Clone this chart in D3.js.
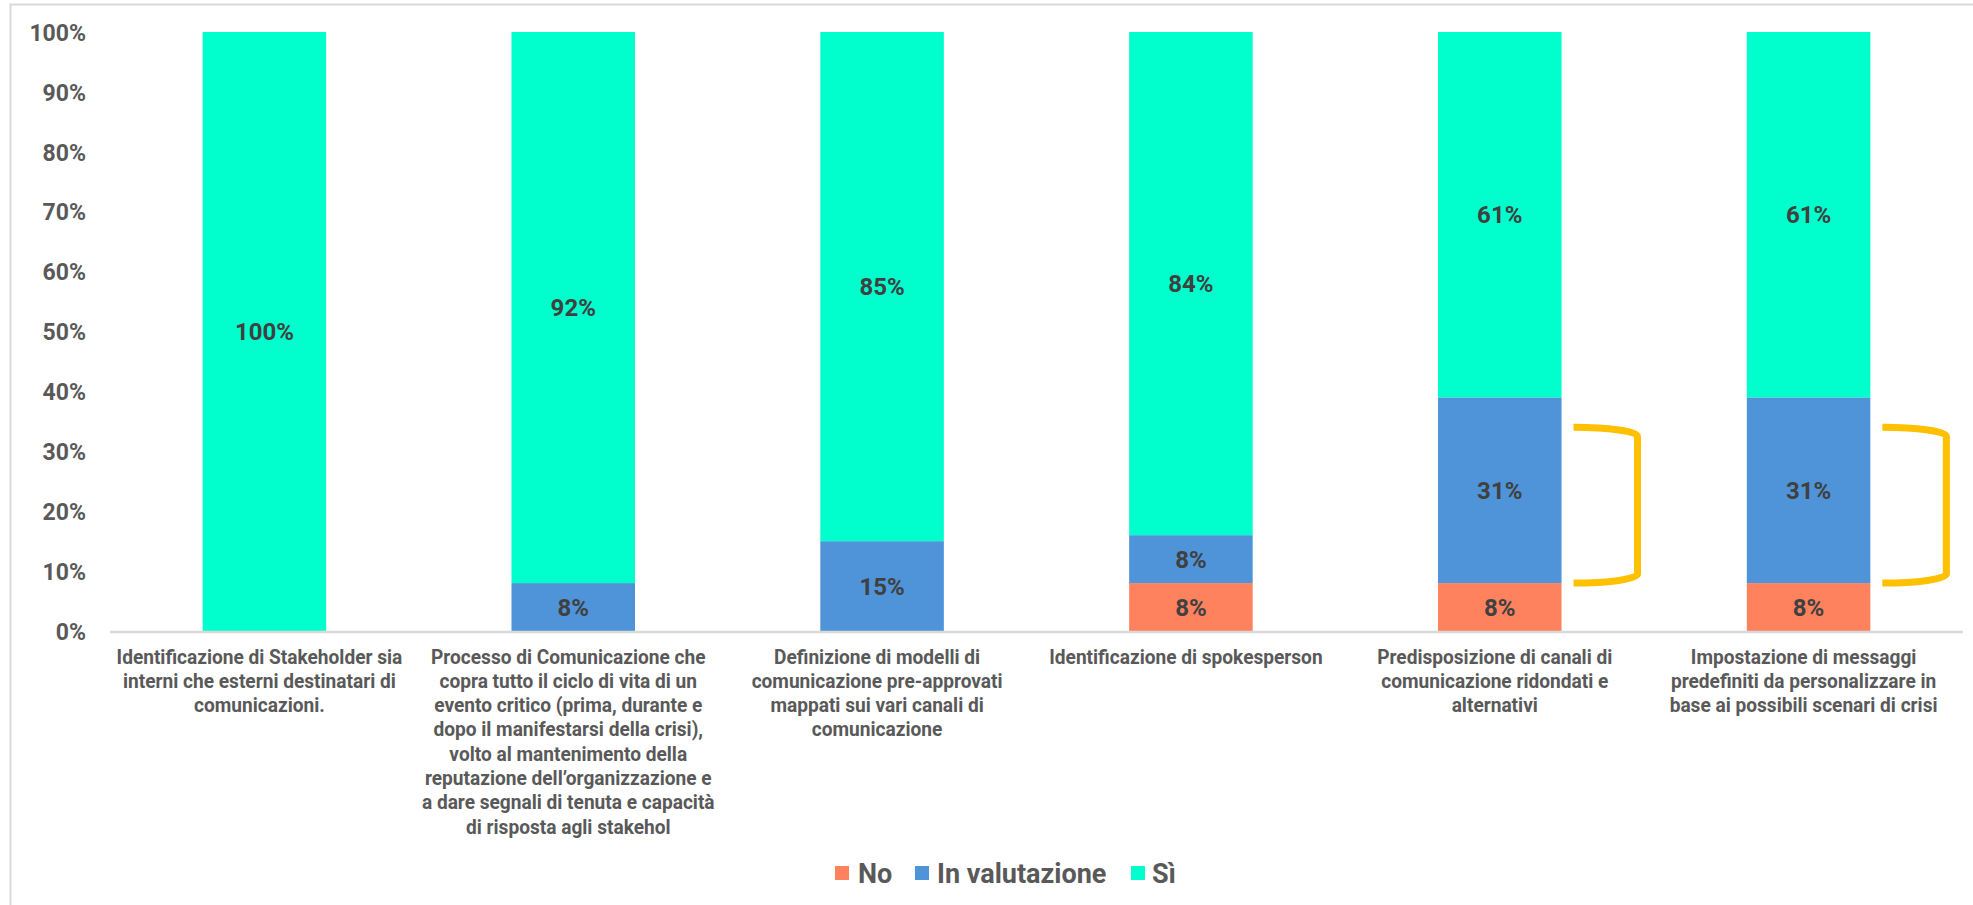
<!DOCTYPE html>
<html>
<head>
<meta charset="utf-8">
<script src="https://cdn.jsdelivr.net/npm/d3@7/dist/d3.min.js"></script>
<style>
  html, body { margin: 0; padding: 0; background: #ffffff; }
  svg { display: block; font-family: Roboto, "Noto Sans", sans-serif; }
</style>
</head>
<body>
<svg id="chart" width="1973" height="905"></svg>
<script>
// Category labels, already broken into the lines they are shown on
const categoryLines = [
  ["Identificazione di Stakeholder sia", "interni che esterni destinatari di", "comunicazioni."],
  ["Processo di Comunicazione che", "copra tutto il ciclo di vita di un", "evento critico (prima, durante e",
   "dopo il manifestarsi della crisi),", "volto al mantenimento della",
   "reputazione dell\u2019organizzazione e", "a dare segnali di tenuta e capacità", "di risposta agli stakehol"],
  ["Definizione di modelli di", "comunicazione pre-approvati", "mappati sui vari canali di", "comunicazione"],
  ["Identificazione di spokesperson"],
  ["Predisposizione di canali di", "comunicazione ridondati e", "alternativi"],
  ["Impostazione di messaggi", "predefiniti da personalizzare in", "base ai possibili scenari di crisi"]
];

// Shares of answers (%) per category
const seriesNames = ["No", "In valutazione", "Sì"];
const noValues = [0, 0, 0, 8, 8, 8];
const evalValues = [0, 8, 15, 8, 31, 31];
const yesValues = [100, 92, 85, 84, 61, 61];

const yTicks = [0, 10, 20, 30, 40, 50, 60, 70, 80, 90, 100];

// Highlighted range (No + In valutazione) on the last two categories
const bracketCategories = [4, 5];
const bracketRange = [8, 34];

const colors = { "No": "#FF825F", "In valutazione": "#4F94D8", "Sì": "#00FFCC" };

const svg = d3.select("#chart");
const W = 1973, H = 905;
const plot = { left: 110, right: 1963, top: 32, bottom: 631 };

// outer frame
svg.append("rect")
  .attr("x", 10.5).attr("y", 4.5)
  .attr("width", W + 20).attr("height", H + 20)
  .attr("fill", "none").attr("stroke", "#d9d9d9").attr("stroke-width", 2);

const idx = d3.range(categoryLines.length);
const x = d3.scaleBand().domain(idx)
  .range([plot.left, plot.right])
  .paddingInner(0.6).paddingOuter(0.3);
const y = d3.scaleLinear().domain([0, 100]).range([plot.bottom, plot.top]);

const rows = idx.map(i => ({ i, "No": noValues[i], "In valutazione": evalValues[i], "Sì": yesValues[i] }));
const stacked = d3.stack().keys(seriesNames)(rows);

// y axis labels only (no line, no ticks)
const yAxis = svg.append("g")
  .attr("transform", `translate(${plot.left},0)`)
  .call(d3.axisLeft(y).tickValues(yTicks).tickFormat(d => d + "%").tickSize(0).tickPadding(24));
yAxis.select(".domain").remove();
yAxis.selectAll("text")
  .attr("font-family", "Roboto")
  .attr("font-weight", 700)
  .attr("font-size", 23)
  .attr("fill", "#595959")
  .attr("dy", "0.36em");

// stacked bars
const layers = svg.append("g").selectAll("g").data(stacked).join("g")
  .attr("fill", d => colors[d.key]);
layers.selectAll("rect").data(d => d).join("rect")
  .attr("x", d => x(d.data.i))
  .attr("width", x.bandwidth())
  .attr("y", d => y(d[1]))
  .attr("height", d => y(d[0]) - y(d[1]));

// value labels centred in each segment
const labels = svg.append("g");
stacked.forEach(layer => {
  layer.forEach(d => {
    const v = d[1] - d[0];
    if (v <= 0) return;
    labels.append("text")
      .attr("x", x(d.data.i) + x.bandwidth() / 2)
      .attr("y", y((d[0] + d[1]) / 2))
      .attr("dy", "0.36em")
      .attr("text-anchor", "middle")
      .attr("font-family", "Roboto")
      .attr("font-weight", 700)
      .attr("font-size", 24)
      .attr("fill", "#404040")
      .text(v + "%");
  });
});

// x axis baseline
svg.append("line")
  .attr("x1", plot.left).attr("x2", plot.right)
  .attr("y1", y(0) + 1).attr("y2", y(0) + 1)
  .attr("stroke", "#d9d9d9").attr("stroke-width", 2.5);

// category labels (condensed look via horizontal scaling)
const catG = svg.append("g");
categoryLines.forEach((lines, i) => {
  const cx = x(i) + x.bandwidth() / 2 - 5;
  lines.forEach((line, k) => {
    catG.append("text")
      .attr("transform", `translate(${cx},${656 + k * 24.3}) scale(0.91,1)`)
      .attr("dy", "0.36em")
      .attr("text-anchor", "middle")
      .attr("font-family", "Roboto")
      .attr("font-weight", 700)
      .attr("font-size", 21)
      .attr("fill", "#595959")
      .text(line);
  });
});

// bracket annotations beside the highlighted bars
bracketCategories.forEach(i => {
  const x0 = x(i) + x.bandwidth() + 12;
  const x1 = x(i) + x.bandwidth() + 76;
  const yT = y(bracketRange[1]);
  const yB = y(bracketRange[0]);
  const r = 9;
  svg.append("path")
    .attr("d", `M${x0},${yT} A${x1 - x0},${r} 0 0 1 ${x1},${yT + r} L${x1},${yB - r} A${x1 - x0},${r} 0 0 1 ${x0},${yB}`)
    .attr("fill", "none")
    .attr("stroke", "#FFC000")
    .attr("stroke-width", 7);
});

// legend
const legendItems = [
  { key: "No", sx: 835, tx: 858 },
  { key: "In valutazione", sx: 915, tx: 937 },
  { key: "Sì", sx: 1131, tx: 1152 }
];
const legend = svg.append("g");
legendItems.forEach(it => {
  legend.append("rect")
    .attr("x", it.sx).attr("y", 866)
    .attr("width", 14).attr("height", 14)
    .attr("fill", colors[it.key]);
  legend.append("text")
    .attr("x", it.tx).attr("y", 873)
    .attr("dy", "0.36em")
    .attr("font-family", "Roboto")
    .attr("font-weight", 700)
    .attr("font-size", 27)
    .attr("fill", "#595959")
    .text(it.key);
});
</script>
</body>
</html>
